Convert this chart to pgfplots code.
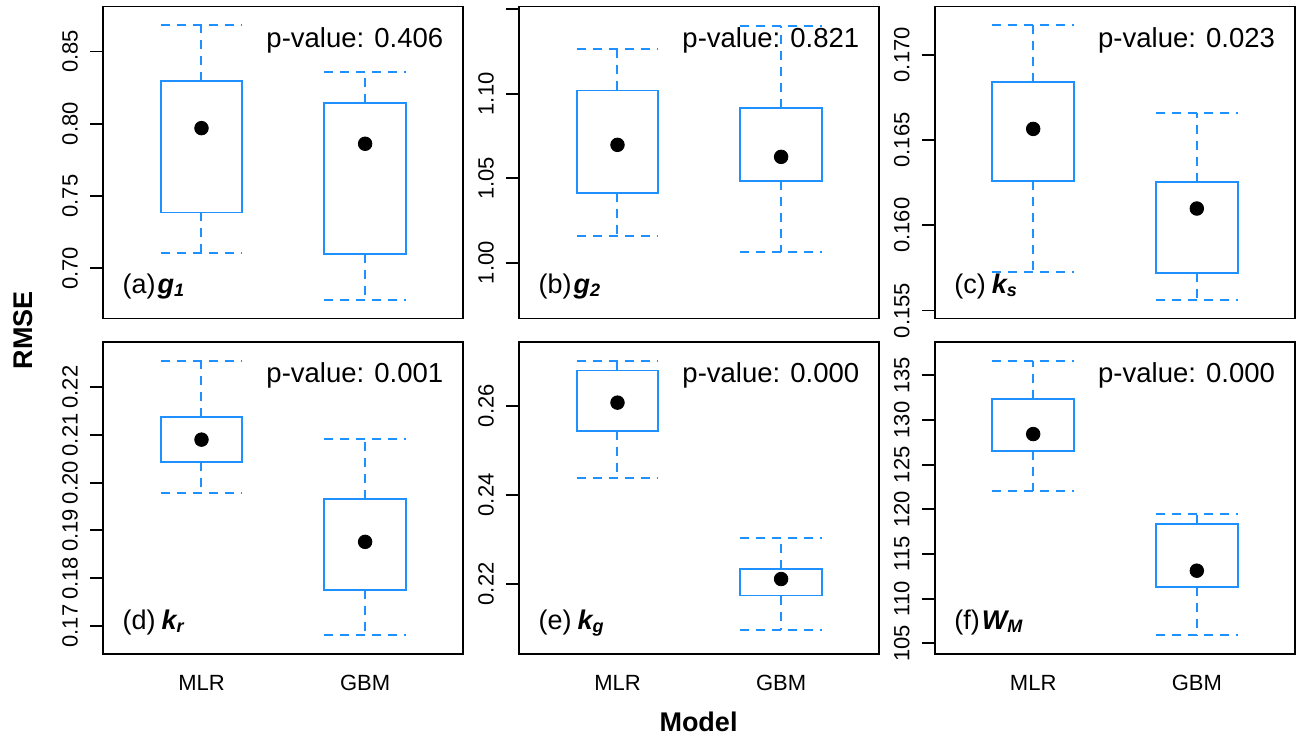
\documentclass[border=0pt]{standalone}
\usepackage{fontspec}
\setmainfont{Liberation Sans}
\usepackage{pgfplots}
\pgfplotsset{compat=1.18}
\definecolor{dodger}{RGB}{30,144,255}

\pgfplotsset{
  panel/.style={scale only axis, width=180pt, height=156pt, anchor=south west,
    xmin=0.4, xmax=2.6, xtick=\empty,
    axis line style={line width=0.95pt},
    tick align=outside, major tick length=6.5pt, ytick pos=left, xtick pos=bottom,
    ytick style={line width=0.95pt, black},
    xtick style={draw=none},
    tick label style={font=\fontsize{11}{13}\selectfont},
    yticklabel style={rotate=90, anchor=south, inner sep=0pt},
    yticklabel shift=6pt,
    xticklabel style={anchor=north, inner sep=0pt},
    xticklabel shift=4pt,
    /pgf/number format/assume math mode=true,
    clip=false,
  },
  bottompanel/.style={panel, xtick={1,2}, xticklabels={MLR,GBM}},
  rboxline/.style={dodger, line width=0.95pt, solid, line join=miter, line cap=rect, mark=none},
  rwhisk/.style={dodger, line width=1pt, dash pattern=on 4.5pt off 3.5pt, mark=none},
  rdot/.style={only marks, mark=*, mark size=3.4pt, black, mark options={solid,fill=black}},
}
% \rbox{left}{centre}{right}{lower whisker}{lower quartile}{upper quartile}{upper whisker}
\newcommand{\rbox}[7]{%
  \addplot[rwhisk] coordinates {(#2,#5) (#2,#4)};
  \addplot[rwhisk] coordinates {(#1,#4) (#3,#4)};
  \addplot[rwhisk] coordinates {(#2,#6) (#2,#7)};
  \addplot[rwhisk] coordinates {(#1,#7) (#3,#7)};
  \addplot[rboxline] coordinates {(#1,#5) (#3,#5) (#3,#6) (#1,#6) (#1,#5)};
}
\newcommand{\pval}[1]{\node[anchor=base east, inner sep=0pt, xshift=-9.8pt, yshift=-20.35pt, font=\fontsize{13.75}{16}\selectfont] at (rel axis cs:1,1) {p-value: #1};}
\newcommand{\plab}[3]{\node[anchor=base west, inner sep=0pt, xshift=9.5pt, yshift=12.5pt, font=\fontsize{13.5}{16}\selectfont] at (rel axis cs:0,0) {(#1)\kern#3{\bfseries\itshape #2}};}

\begin{document}
\begin{tikzpicture}
\useasboundingbox (0,0) rectangle (648pt,370pt);

% (a)
\begin{axis}[panel, at={(51.65pt,210.75pt)}, ymin=0.6654, ymax=0.8811,
  ytick={0.70,0.75,0.80,0.85}, yticklabels={0.70,0.75,0.80,0.85}]
\rbox{0.75}{1}{1.25}{0.7109}{0.7387}{0.8295}{0.868}
\rbox{1.75}{2}{2.25}{0.6779}{0.7097}{0.8143}{0.8357}
\addplot[rdot] coordinates {(1,0.797) (2,0.7862)};
\pval{0.406}
\plab{a}{g\raisebox{-1.7pt}{\fontsize{9}{10}\selectfont 1}}{1pt}
\end{axis}

% (b)
\begin{axis}[panel, at={(259.65pt,210.75pt)}, ymin=0.967, ymax=1.1517,
  ytick={1.00,1.05,1.10,1.15}, yticklabels={1.00,1.05,1.10,{}}]
\rbox{0.75}{1}{1.25}{1.0157}{1.0415}{1.102}{1.1266}
\rbox{1.75}{2}{2.25}{1.0065}{1.0486}{1.0917}{1.1404}
\addplot[rdot] coordinates {(1,1.0698) (2,1.0627)};
\pval{0.821}
\plab{b}{g\raisebox{-1.7pt}{\fontsize{9}{10}\selectfont 2}}{1pt}
\end{axis}

% (c)
\begin{axis}[panel, at={(467.5pt,210.75pt)}, ymin=0.15453, ymax=0.17283,
  ytick={0.155,0.160,0.165,0.170}, yticklabels={0.155,0.160,0.165,0.170}]
\rbox{0.75}{1}{1.25}{0.15725}{0.16261}{0.16839}{0.17172}
\rbox{1.75}{2}{2.25}{0.15559}{0.15719}{0.16255}{0.16657}
\addplot[rdot] coordinates {(1,0.16565) (2,0.16098)};
\pval{0.023}
\plab{c}{k\raisebox{-1.7pt}{\fontsize{9}{10}\selectfont s}}{3pt}
\end{axis}

% (d)
\begin{axis}[bottompanel, at={(51.65pt,43pt)}, ymin=0.16413, ymax=0.22943,
  ytick={0.17,0.18,0.19,0.20,0.21,0.22}, yticklabels={0.17,0.18,0.19,0.20,0.21,0.22}]
\rbox{0.75}{1}{1.25}{0.1979}{0.2043}{0.2138}{0.2255}
\rbox{1.75}{2}{2.25}{0.1681}{0.1776}{0.1965}{0.2092}
\addplot[rdot] coordinates {(1,0.2090) (2,0.1876)};
\pval{0.001}
\plab{d}{k\raisebox{-1.7pt}{\fontsize{9}{10}\selectfont r}}{3pt}
\end{axis}

% (e)
\begin{axis}[bottompanel, at={(259.65pt,43pt)}, ymin=0.20427, ymax=0.27431,
  ytick={0.22,0.24,0.26}, yticklabels={0.22,0.24,0.26}]
\rbox{0.75}{1}{1.25}{0.2438}{0.2544}{0.2679}{0.2701}
\rbox{1.75}{2}{2.25}{0.2097}{0.2174}{0.2234}{0.2304}
\addplot[rdot] coordinates {(1,0.2607) (2,0.2211)};
\pval{0.000}
\plab{e}{k\raisebox{-1.7pt}{\fontsize{9}{10}\selectfont g}}{3pt}
\end{axis}

% (f)
\begin{axis}[bottompanel, at={(467.5pt,43pt)}, ymin=103.8, ymax=138.74,
  ytick={105,110,115,120,125,130,135}, yticklabels={105,110,115,120,125,130,135}]
\rbox{0.75}{1}{1.25}{122.02}{126.54}{132.35}{136.65}
\rbox{1.75}{2}{2.25}{105.9}{111.31}{118.32}{119.51}
\addplot[rdot] coordinates {(1,128.43) (2,113.13)};
\pval{0.000}
\plab{f}{W\raisebox{-1.7pt}{\fontsize{9}{10}\selectfont M}}{1pt}
\end{axis}

\node[rotate=90, font=\bfseries\fontsize{13.5}{16}\selectfont] at (11.5pt,205pt) {RMSE};
\node[anchor=base, font=\bfseries\fontsize{13.5}{16}\selectfont] at (349.25pt,4.5pt) {Model};
\end{tikzpicture}
\end{document}
